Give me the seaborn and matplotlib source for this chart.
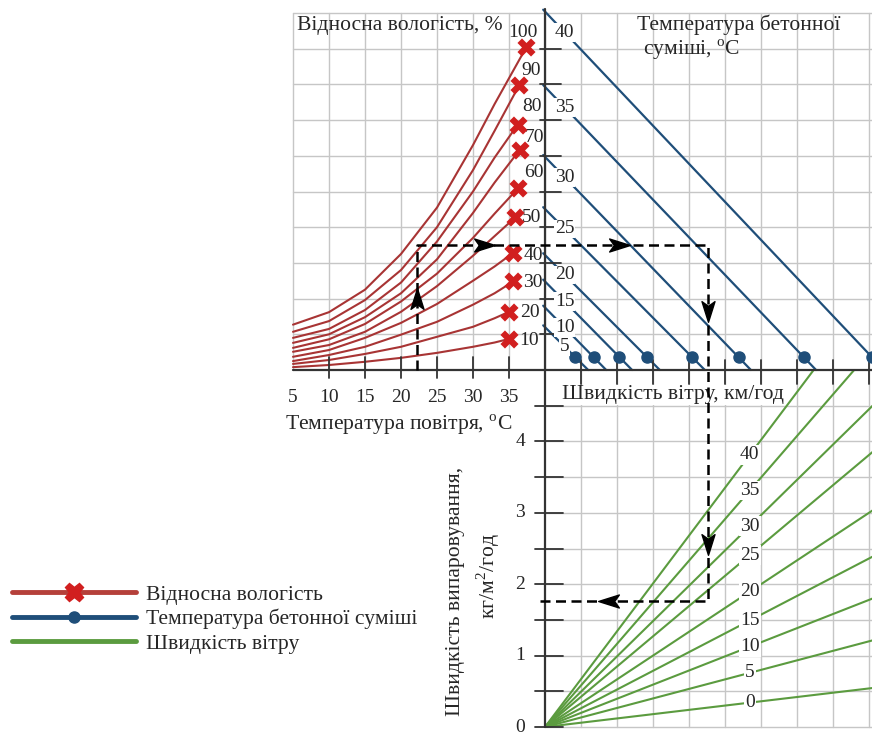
import numpy as np
import pandas as pd
import seaborn as sns
import matplotlib.pyplot as plt
from matplotlib.lines import Line2D
from matplotlib.path import Path

sns.set_theme(style='white')
plt.rcParams['font.family'] = ['Liberation Serif', 'DejaVu Serif']
plt.rcParams['mathtext.fontset'] = 'custom'
plt.rcParams['mathtext.rm'] = 'Liberation Serif'

# nomograph drawn in "grid cells": x=0 / y=0 is where the axes cross
# air temperature -> x = (T - 40) / 5 ; evaporation -> y = 2*E - 10

air_ticks = [5, 10, 15, 20, 25, 30, 35]

# relative humidity curves (grid y read at T = 5..30, 33 and at the X mark)
rh_levels = [10, 20, 30, 40, 50, 60, 70, 80, 90, 100]
rh_temps = [5, 10, 15, 20, 25, 30, 33]
rh10 = [0.08, 0.14, 0.23, 0.34, 0.48, 0.65, 0.77]
rh20 = [0.17, 0.28, 0.45, 0.65, 0.93, 1.21, 1.45]
rh30 = [0.25, 0.42, 0.65, 0.99, 1.35, 1.83, 2.15]
rh40 = [0.37, 0.56, 0.90, 1.32, 1.85, 2.50, 2.90]
rh50 = [0.51, 0.70, 1.07, 1.63, 2.35, 3.20, 3.75]
rh60 = [0.62, 0.86, 1.29, 1.92, 2.70, 3.70, 4.38]
rh70 = [0.76, 1.00, 1.48, 2.15, 3.10, 4.40, 5.25]
rh80 = [0.90, 1.15, 1.68, 2.45, 3.60, 5.00, 5.95]
rh90 = [1.07, 1.37, 1.96, 2.80, 4.00, 5.60, 6.70]
rh100 = [1.27, 1.62, 2.25, 3.25, 4.55, 6.30, 7.45]
rh_end_temp = [35.0, 35.0, 35.6, 35.5, 35.9, 36.3, 36.5, 36.2, 36.4, 37.4]
rh_end_y = [0.87, 1.63, 2.48, 3.27, 4.28, 5.10, 6.17, 6.87, 7.97, 9.04]
rh_label_x = [-0.44, -0.42, -0.33, -0.31, -0.36, -0.31, -0.28, -0.36, -0.39, -0.61]
rh_label_y = [0.84, 1.60, 2.44, 3.22, 4.26, 5.52, 6.52, 7.37, 8.40, 9.44]

# concrete temperature lines: crossing of the vertical axis and of the horizontal axis
concrete_temps = [5, 10, 15, 20, 25, 30, 35, 40]
concrete_y0 = [1.20, 1.75, 2.48, 3.22, 4.51, 5.97, 7.93, 10.04]
concrete_x0 = [1.20, 1.70, 2.42, 3.19, 4.44, 5.72, 7.53, 9.42]

# wind speed lines: evaporation (kg/m2/h) reached at the right grid line (x = 9)
wind_speeds = [0, 5, 10, 15, 20, 25, 30, 35, 40]
wind_evap_at_edge = [0.54, 1.20, 1.78, 2.36, 3.00, 3.81, 4.45, 5.24, 6.03]

evap_ticks = [0, 1, 2, 3, 4]

# worked example
ex_air_temp = 22.2
ex_level = 3.50
ex_right_x = 4.53
ex_evap = 1.77

red = '#a83434'
red_mark = '#d11f1f'
blue = '#1f4e79'
green = '#5b9b3f'
grid_c = '#c6c6c6'
axis_c = '#333333'
fs_tick = 14
fs_text = 15.6

PX, PY = 36.0, 35.7
fig = plt.figure(figsize=(8.72, 7.37), dpi=100)
ax = fig.add_axes([0, 0, 1, 1])
ax.set_xlim(-545 / PX, 327 / PX)
ax.set_ylim((370 - 737) / PY, 370 / PY)
ax.axis('off')

# grid
for gx in range(-7, 1):
    ax.plot([gx, gx], [0, 10], color=grid_c, lw=1, zorder=0)
for gx in range(1, 10):
    ax.plot([gx, gx], [-10, 10], color=grid_c, lw=1, zorder=0)
for gy in range(1, 11):
    ax.plot([-7, 9.2], [gy, gy], color=grid_c, lw=1, zorder=0)
for gy in range(-10, 0):
    ax.plot([0, 9.2], [gy, gy], color=grid_c, lw=1, zorder=0)

# main axes and ticks
ax.plot([-7, 9.2], [0, 0], color=axis_c, lw=1.6, zorder=3)
ax.plot([0, 0], [10.1, -10], color=axis_c, lw=1.6, zorder=3)
for gx in range(-6, 0):
    ax.plot([gx, gx], [0.36, -0.22], color=axis_c, lw=1.3, zorder=3)
for gx in range(1, 10):
    ax.plot([gx, gx], [0.28, -0.38], color=axis_c, lw=1.3, zorder=3)
for gy in range(1, 10):
    ax.plot([-0.14, 0.45], [gy, gy], color=axis_c, lw=1.3, zorder=3)
for gy in range(-10, 0):
    ax.plot([-0.28, 0.5], [gy, gy], color=axis_c, lw=1.3, zorder=3)

# relative humidity curves
rows = []
for lvl, vals, te, ye in zip(rh_levels, [rh10, rh20, rh30, rh40, rh50, rh60, rh70, rh80, rh90, rh100],
                             rh_end_temp, rh_end_y):
    for t, v in zip(rh_temps + [te], vals + [ye]):
        rows.append({'rh': lvl, 'x': (t - 40) / 5, 'y': v})
df_rh = pd.DataFrame(rows)
sns.lineplot(data=df_rh, x='x', y='y', units='rh', estimator=None, sort=False,
             color=red, lw=1.5, legend=False, ax=ax, zorder=2)
for lvl, lx, ly in zip(rh_levels, rh_label_x, rh_label_y):
    ax.text(lx, ly, str(lvl), ha='center', va='center', fontsize=fs_tick, zorder=4)
ax.scatter([(t - 40) / 5 for t in rh_end_temp], rh_end_y, marker='X', s=170,
           color=red_mark, linewidths=0, zorder=5)

# concrete temperature lines
for ct, y0, x0 in zip(concrete_temps, concrete_y0, concrete_x0):
    xs = np.array([-0.05, x0])
    ax.plot(xs, y0 * (1 - xs / x0), color=blue, lw=1.6, zorder=2)
    ax.plot(x0 * (1 - 0.36 / y0), 0.36, 'o', color=blue, ms=8, zorder=4)
    ax.text(0.55, y0 * (1 - 0.55 / x0), str(ct), ha='center', va='center', fontsize=fs_tick, zorder=4,
            bbox=dict(facecolor='white', edgecolor='none', pad=0.6))

# wind speed lines
rows = []
for ws, e9 in zip(wind_speeds, wind_evap_at_edge):
    slope = 2 * e9 / 9
    xt = min(9.3, 10 / slope)
    rows.append({'ws': ws, 'x': 0, 'y': -10})
    rows.append({'ws': ws, 'x': xt, 'y': -10 + slope * xt})
    ax.text(5.69, -10 + slope * 5.69, str(ws), ha='center', va='center', fontsize=fs_tick, zorder=4,
            bbox=dict(facecolor='white', edgecolor='none', pad=1.0))
df_w = pd.DataFrame(rows)
sns.lineplot(data=df_w, x='x', y='y', units='ws', estimator=None, sort=False,
             color=green, lw=1.5, legend=False, ax=ax, zorder=2)

# worked example path
ex_x = (ex_air_temp - 40) / 5
ex_y = 2 * ex_evap - 10
ax.plot([ex_x, ex_x, ex_right_x, ex_right_x, -0.28], [0, ex_level, ex_level, ex_y, ex_y],
        color='black', lw=1.8, ls=(0, (4, 2.2)), zorder=6)


def dart(angle):
    pts = np.array([(0, 1), (0.55, -0.75), (0, -0.35), (-0.55, -0.75), (0, 1)])
    a = np.deg2rad(angle)
    rot = np.array([[np.cos(a), -np.sin(a)], [np.sin(a), np.cos(a)]])
    return Path(pts @ rot.T, [Path.MOVETO, Path.LINETO, Path.LINETO, Path.LINETO, Path.CLOSEPOLY])


arrows = [(ex_x, 1.96, 0), (-1.72, ex_level, -90), (2.03, ex_level, -90),
          (ex_right_x, 1.68, 180), (ex_right_x, -4.85, 180), (1.8, ex_y, 90)]
for axx, ayy, ang in arrows:
    ax.plot(axx, ayy, marker=dart(ang), color='black', ms=17, zorder=7)

# tick labels
for t in air_ticks:
    ax.text((t - 40) / 5, -0.76, str(t), ha='center', va='center', fontsize=fs_tick)
for e in evap_ticks:
    ax.text(-0.69, 2 * e - 10, str(e), ha='center', va='center', fontsize=fs_tick)

# titles
ax.text(-6.89, 9.66, 'Відносна вологість, %', ha='left', va='center', fontsize=fs_text)
ax.text(2.56, 9.66, 'Температура бетонної', ha='left', va='center', fontsize=fs_text)
ax.text(2.72, 8.96, 'суміші, $^{\\mathrm{o}}$C', ha='left', va='center', fontsize=fs_text)
ax.text(-7.22, -1.54, 'Температура повітря, $^{\\mathrm{o}}$C', ha='left', va='center', fontsize=fs_text)
ax.text(0.47, -0.70, 'Швидкість вітру, км/год', ha='left', va='center', fontsize=fs_text,
        bbox=dict(facecolor='white', edgecolor='none', pad=0.5), zorder=5)
ax.text(-2.5, -6.19, 'Швидкість випаровування,', rotation=90, ha='center', va='center', fontsize=fs_text)
ax.text(-1.58, -5.77, 'кг/м$^2$/год', rotation=90, ha='center', va='center', fontsize=fs_text)

# legend
handles = [
    Line2D([0], [0], color='#b5403a', lw=3.5, marker='X', ms=13, mfc=red_mark, mec=red_mark,
           label='Відносна вологість'),
    Line2D([0], [0], color=blue, lw=3.5, marker='o', ms=8, label='Температура бетонної суміші'),
    Line2D([0], [0], color=green, lw=3.5, label='Швидкість вітру'),
]
fig.legend(handles=handles, loc='upper left', bbox_to_anchor=(0.0138, 0.207), frameon=False,
           fontsize=fs_text, handlelength=5.7, handletextpad=0.5, labelspacing=0.2,
           borderpad=0, borderaxespad=0)

plt.savefig('out.png', dpi=100)
